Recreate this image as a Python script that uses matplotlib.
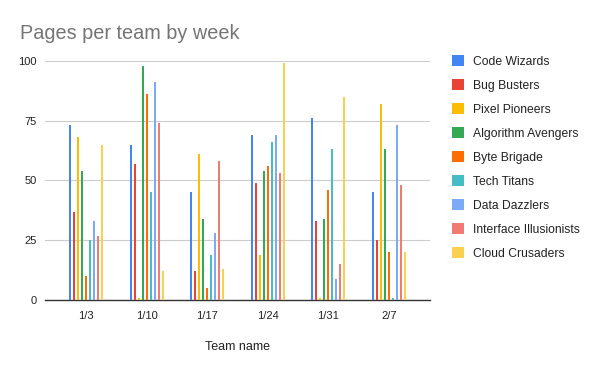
import numpy as np
import matplotlib.pyplot as plt

weeks = ['1/3', '1/10', '1/17', '1/24', '1/31', '2/7']
teams = ['Code Wizards', 'Bug Busters', 'Pixel Pioneers', 'Algorithm Avengers',
         'Byte Brigade', 'Tech Titans', 'Data Dazzlers', 'Interface Illusionists',
         'Cloud Crusaders']

code_wizards = [73, 65, 45, 69, 76, 45]
bug_busters = [37, 57, 12, 49, 33, 25]
pixel_pioneers = [68, 1, 61, 19, 1, 82]
algorithm_avengers = [54, 98, 34, 54, 34, 63]
byte_brigade = [10, 86, 5, 56, 46, 20]
tech_titans = [25, 45, 19, 66, 63, 1]
data_dazzlers = [33, 91, 28, 69, 9, 73]
interface_illusionists = [27, 74, 58, 53, 15, 48]
cloud_crusaders = [65, 12, 13, 99, 85, 20]

series = [code_wizards, bug_busters, pixel_pioneers, algorithm_avengers,
          byte_brigade, tech_titans, data_dazzlers, interface_illusionists,
          cloud_crusaders]
colors = ['#4285F4', '#EA4335', '#FBBC04', '#34A853', '#FF6D01',
          '#46BDC6', '#7BAAF7', '#F07B72', '#FCD04F']

plt.rcParams['font.family'] = ['Liberation Sans', 'DejaVu Sans']

fig = plt.figure(figsize=(6, 3.71), dpi=100)
ax = fig.add_axes([0.075, 0.191, 0.642, 0.645])

x = np.arange(len(weeks))
slot = 0.066
width = 0.034
for i, (vals, name, c) in enumerate(zip(series, teams, colors)):
    ax.bar(x + (i - 4) * slot, vals, width=width, color=c, label=name,
           linewidth=0, zorder=3)

ax.set_xlim(-0.68, len(weeks) - 1 + 0.68)
ax.set_ylim(0, 100)
ax.set_yticks([0, 25, 50, 75, 100])
ax.set_xticks(x)
ax.set_xticklabels(weeks)
ax.grid(axis='y', color='#cccccc', linewidth=0.8, zorder=0)
for s in ['top', 'right', 'left']:
    ax.spines[s].set_visible(False)
ax.spines['bottom'].set_color('#333333')
ax.spines['bottom'].set_linewidth(1)
ax.tick_params(axis='both', length=0, labelsize=8, labelcolor='#222222')
ax.tick_params(axis='y', pad=6)
ax.tick_params(axis='x', pad=8)
ax.set_xlabel('Team name', fontsize=9, color='#222222', labelpad=14)

fig.text(0.033, 0.895, 'Pages per team by week', fontsize=14.3, color='#757575')

ax.legend(loc='upper left', bbox_to_anchor=(0.753, 0.851),
          bbox_transform=fig.transFigure, frameon=False, fontsize=8.7,
          handlelength=1.0, handleheight=1.0, handletextpad=0.75,
          labelspacing=0.95, borderpad=0, borderaxespad=0, labelcolor='#222222')

fig.savefig('out.png', dpi=100)
